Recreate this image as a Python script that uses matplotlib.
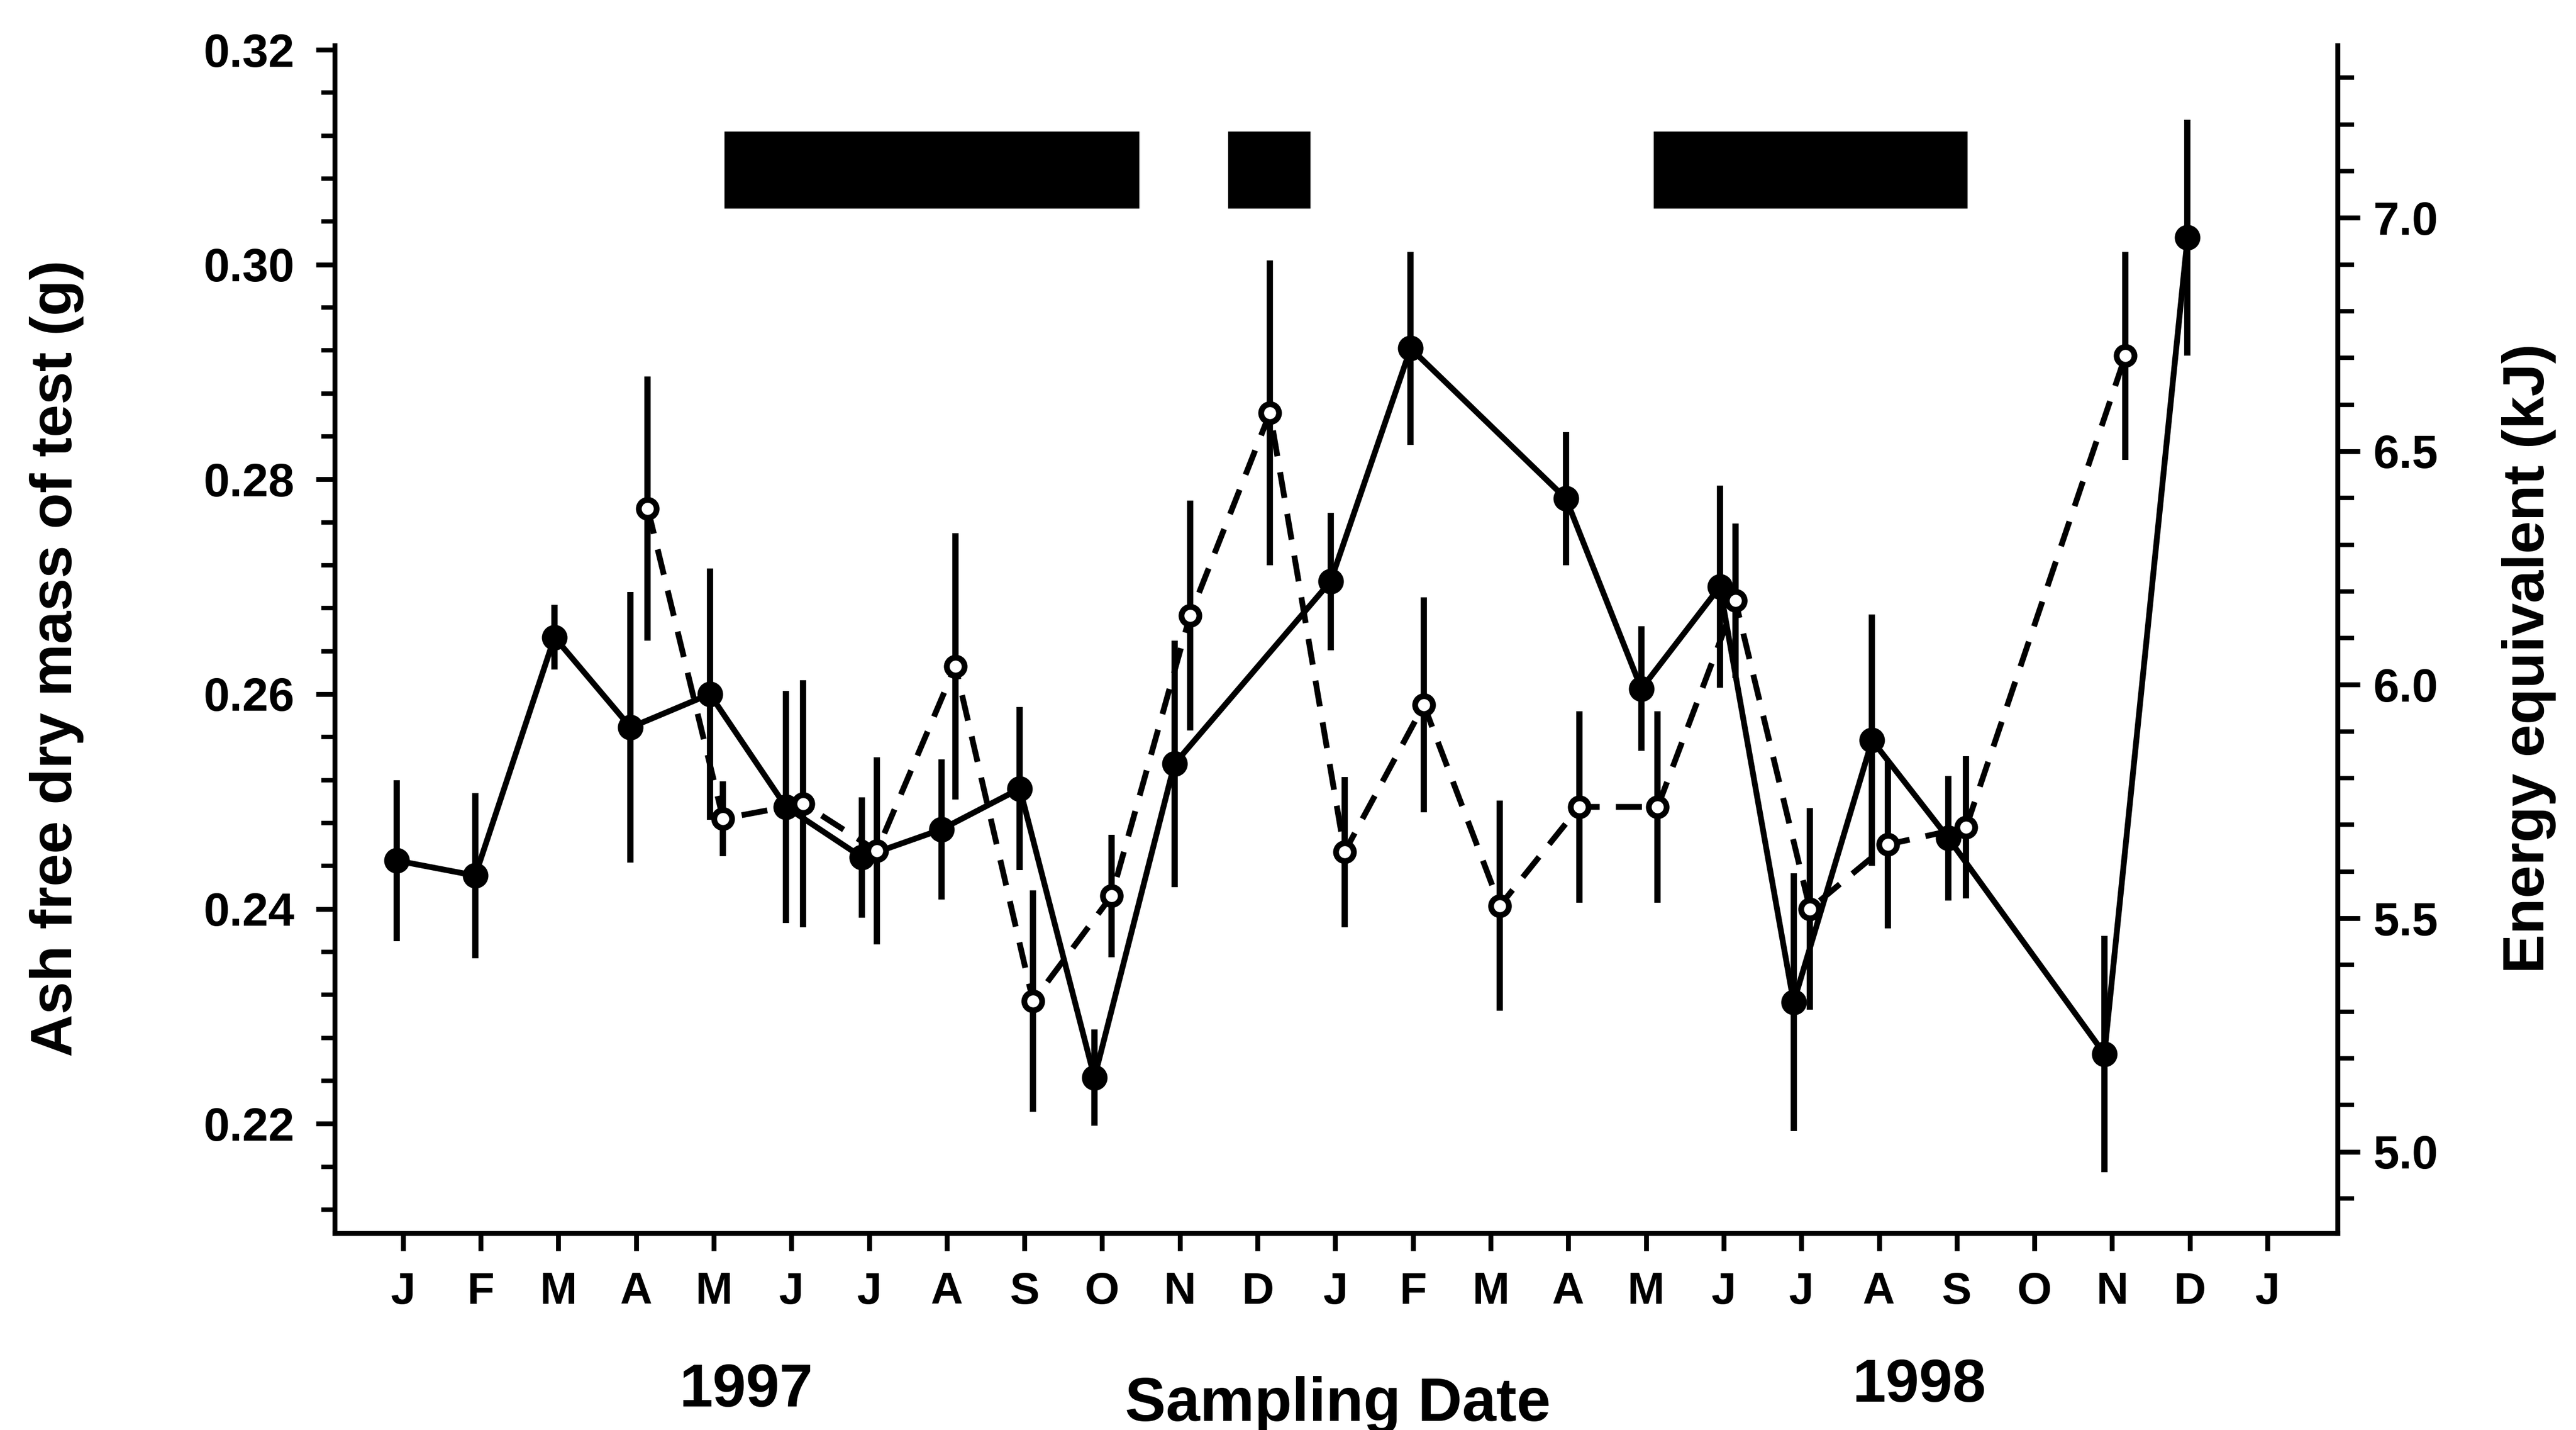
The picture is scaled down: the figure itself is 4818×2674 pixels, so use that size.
import matplotlib
matplotlib.use("Agg")
import matplotlib.pyplot as plt
from matplotlib.ticker import MultipleLocator

plt.rcParams["font.family"] = ["Liberation Sans", "DejaVu Sans"]
plt.rcParams["font.weight"] = "bold"

# month index 0 = Jan 1997 ... 24 = Jan 1999
month_labels = ["J", "F", "M", "A", "M", "J", "J", "A", "S", "O", "N", "D",
                "J", "F", "M", "A", "M", "J", "J", "A", "S", "O", "N", "D", "J"]

# filled circles, solid line
solid_x = [-0.08, 0.93, 1.95, 2.93, 3.95, 4.93, 5.91, 6.93, 7.94, 8.90, 9.93,
           11.94, 12.97, 14.97, 15.94, 16.95, 17.90, 18.91, 19.89, 21.90, 22.97]
solid_y = [0.2445, 0.2431, 0.2653, 0.2569, 0.2600, 0.2495, 0.2448, 0.2474, 0.2512,
           0.2243, 0.2535, 0.2705, 0.2922, 0.2782, 0.2605, 0.2700, 0.2313, 0.2557,
           0.2466, 0.2265, 0.3025]
solid_err = [0.0075, 0.0077, 0.0030, 0.0126, 0.0117, 0.0108, 0.0056, 0.0065, 0.0076,
             0.0045, 0.0115, 0.0064, 0.0090, 0.0062, 0.0058, 0.0094, 0.0120, 0.0117,
             0.0058, 0.0110, 0.0110]

# open circles, dashed line
open_x = [3.15, 4.12, 5.15, 6.10, 7.11, 8.11, 9.12, 10.13, 11.16, 12.12, 13.14,
          14.12, 15.14, 16.15, 17.15, 18.11, 19.11, 20.12, 22.17]
open_y = [0.2773, 0.2484, 0.2498, 0.2454, 0.2626, 0.2314, 0.2412, 0.2673, 0.2862,
          0.2453, 0.2590, 0.2403, 0.2495, 0.2495, 0.2687, 0.2400, 0.2460, 0.2476,
          0.2915]
open_err = [0.0123, 0.0035, 0.0115, 0.0087, 0.0124, 0.0103, 0.0057, 0.0107, 0.0142,
            0.0070, 0.0100, 0.0098, 0.0089, 0.0089, 0.0072, 0.0094, 0.0078, 0.0066,
            0.0097]

# black period bars at the top
period_start = [4.14, 10.62, 16.10]
period_end = [9.48, 11.68, 20.14]

KJ_PER_G = 23.0

fig = plt.figure(figsize=(4818 / 300, 2674 / 300), dpi=300)
ax = fig.add_axes([0.1299, 0.1376, 0.7775, 0.8306])

ax.errorbar(solid_x, solid_y, yerr=solid_err, fmt="-o", color="black",
            lw=2.6, elinewidth=2.8, capsize=0, ms=10.5, mfc="black", mec="black",
            zorder=3)
eb = ax.errorbar(open_x, open_y, yerr=open_err, fmt="--o", color="black",
                 lw=2.6, elinewidth=2.8, capsize=0, ms=8, mfc="white", mec="black",
                 mew=2.6, zorder=4)
eb[0].set_dashes((4.5, 2.8))

widths = [e - s for s, e in zip(period_start, period_end)]
ax.bar(period_start, 0.0072, width=widths, bottom=0.3052, align="edge",
       color="black", zorder=5)

ax.set_xlim(-0.88, 24.9)
ax.set_ylim(0.2098, 0.3204)
ax.set_xticks(range(len(month_labels)))
ax.set_xticklabels(month_labels)
ax.yaxis.set_major_locator(MultipleLocator(0.02))
ax.yaxis.set_minor_locator(MultipleLocator(0.004))
ax.yaxis.set_major_formatter(plt.FormatStrFormatter("%.2f"))

for side in ["left", "bottom", "right"]:
    ax.spines[side].set_linewidth(2.2)
ax.spines["top"].set_visible(False)

ax.tick_params(axis="x", direction="out", length=8, width=2.2, pad=9, labelsize=20)
ax.tick_params(axis="y", which="major", direction="out", length=8.5, width=2.2,
               pad=9.5, labelsize=21)
ax.tick_params(axis="y", which="minor", direction="out", length=6, width=2)

ax2 = ax.twinx()
ax2.set_ylim(0.2098 * KJ_PER_G, 0.3204 * KJ_PER_G)
ax2.yaxis.set_major_locator(MultipleLocator(0.5))
ax2.yaxis.set_minor_locator(MultipleLocator(0.1))
ax2.yaxis.set_major_formatter(plt.FormatStrFormatter("%.1f"))
ax2.spines["top"].set_visible(False)
ax2.spines["right"].set_linewidth(2.2)
ax2.tick_params(axis="y", which="major", direction="out", length=10, width=2.2,
                pad=6, labelsize=21)
ax2.tick_params(axis="y", which="minor", direction="out", length=7.5, width=2)

fig.text(106 / 4818, 0.5396, "Ash free dry mass of test (g)", rotation=90,
         ha="center", va="center", fontsize=26.5, fontweight="bold")
fig.text(4730 / 4818, 0.5396, "Energy equivalent (kJ)", rotation=90,
         ha="center", va="center", fontsize=26.5, fontweight="bold")

fig.text(0.5193, 0.0064, "Sampling Date", ha="center", va="baseline",
         fontsize=27.5, fontweight="bold")
fig.text(1396 / 4818, 0.0165, "1997", ha="center", va="baseline",
         fontsize=27, fontweight="bold")
fig.text(3590 / 4818, 0.0200, "1998", ha="center", va="baseline",
         fontsize=27, fontweight="bold")

fig.savefig("out.png", dpi=300)
